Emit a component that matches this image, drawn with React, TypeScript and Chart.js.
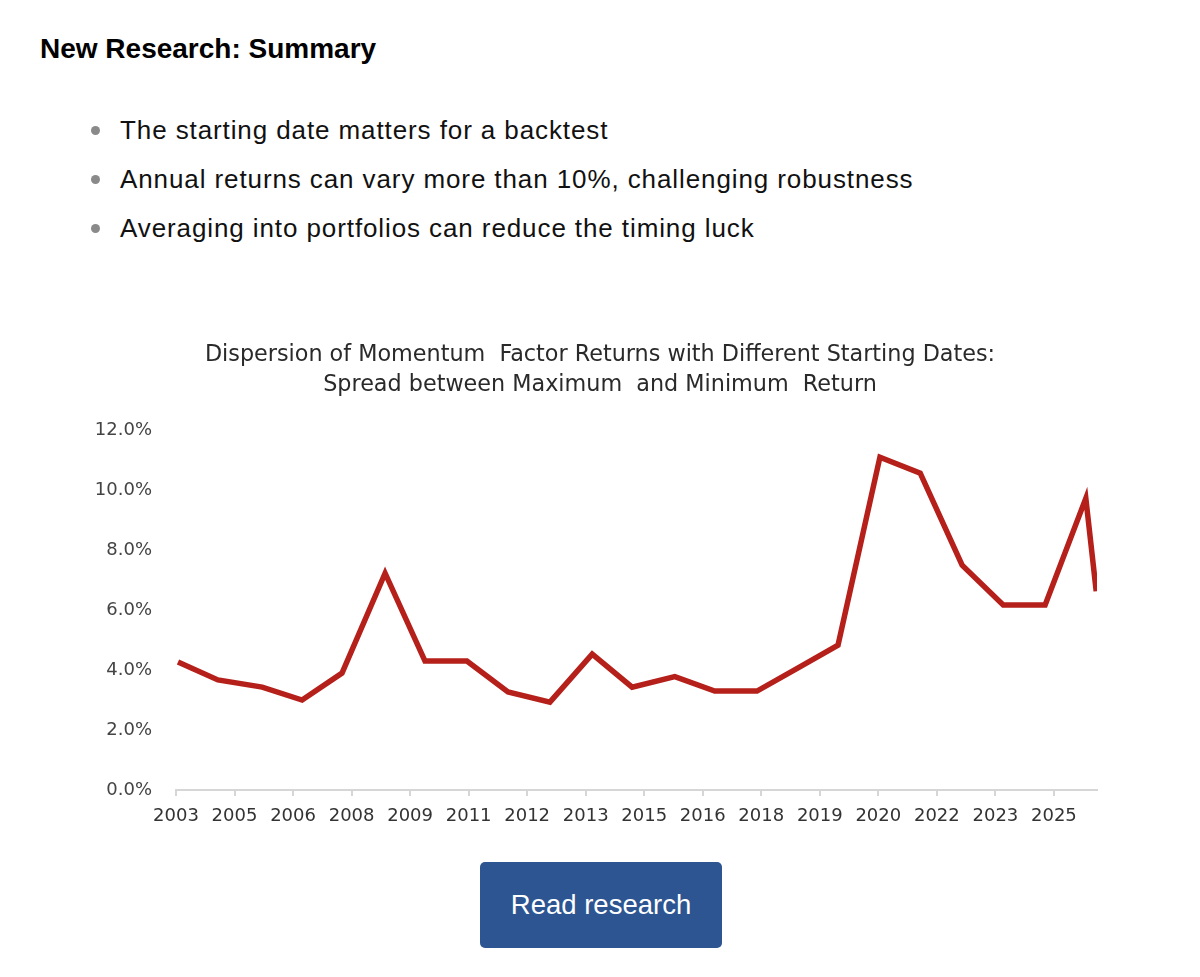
import React, { useEffect, useRef } from "react";
import { Chart, registerables } from "chart.js";

Chart.register(...registerables);

// ---- data ----
const chartTitle = [
  "Dispersion of Momentum  Factor Returns with Different Starting Dates:",
  "Spread between Maximum  and Minimum  Return",
];
const xLabels = [
  "2003", "2005", "2006", "2008", "2009", "2011", "2012", "2013",
  "2015", "2016", "2018", "2019", "2020", "2022", "2023", "2025",
];
// observation dates (fractional years) and spread between max and min return (%)
const pointYears = [
  2003.05, 2004.05, 2005.16, 2006.16, 2007.16, 2008.24, 2009.24, 2010.29,
  2011.32, 2012.37, 2013.43, 2014.43, 2015.5, 2016.5, 2017.56, 2018.59,
  2019.59, 2020.64, 2021.65, 2022.7, 2023.73, 2024.78, 2025.8, 2026.06,
];
const spreadPct = [
  4.27, 3.67, 3.43, 3.0, 3.9, 7.23, 4.3, 4.3,
  3.27, 2.93, 4.53, 3.43, 3.78, 3.3, 3.3, 4.07,
  4.83, 11.1, 10.57, 7.5, 6.17, 6.17, 9.73, 6.63,
];
const yTicks = [0, 2, 4, 6, 8, 10, 12];
const bullets = [
  "The starting date matters for a backtest",
  "Annual returns can vary more than 10%, challenging robustness",
  "Averaging into portfolios can reduce the timing luck",
];

const X_MIN = 2003;
const X_MAX = 2026.08;
const X_TICK_STEP = (2025 - 2003) / (xLabels.length - 1);

function LineChart() {
  const ref = useRef<HTMLCanvasElement | null>(null);
  useEffect(() => {
    if (!ref.current) return;
    const chart = new Chart(ref.current, {
      type: "line",
      data: {
        datasets: [
          {
            label: "Spread",
            data: pointYears.map((x, i) => ({ x, y: spreadPct[i] })),
            borderColor: "#b5201b",
            borderWidth: 5.5,
            pointRadius: 0,
            tension: 0,
            borderJoinStyle: "miter",
            fill: false,
          },
        ],
      },
      options: {
        animation: false,
        responsive: false,
        devicePixelRatio: 1,
        layout: { padding: 0 },
        plugins: {
          legend: { display: false },
          tooltip: { enabled: false },
          title: {
            display: true,
            text: chartTitle,
            color: "#2a2a2a",
            font: { family: "'DejaVu Sans', sans-serif", size: 22.3, weight: "normal", lineHeight: 1.35 },
            padding: { top: 10, bottom: 30 },
          },
        },
        scales: {
          x: {
            type: "linear",
            min: X_MIN,
            max: X_MAX,
            afterBuildTicks: (scale: any) => {
              scale.ticks = xLabels.map((_, i) => ({ value: X_MIN + i * X_TICK_STEP }));
            },
            afterFit: (scale: any) => {
              scale.height = 50;
            },
            grid: {
              display: true,
              drawOnChartArea: false,
              drawTicks: true,
              tickLength: 6,
              color: "#d6d6d6",
              lineWidth: 2,
            },
            border: { display: true, color: "#d6d6d6", width: 2 },
            ticks: {
              autoSkip: false,
              maxRotation: 0,
              padding: 10,
              color: "#333",
              font: { family: "'DejaVu Sans', sans-serif", size: 18 },
              callback: (_v: any, i: number) => xLabels[i],
            },
          },
          y: {
            position: "left",
            min: 0,
            max: 12,
            afterBuildTicks: (scale: any) => {
              scale.ticks = yTicks.map((v) => ({ value: v }));
            },
            afterFit: (scale: any) => {
              scale.width = 116;
            },
            grid: { display: false, drawTicks: false },
            border: { display: false },
            ticks: {
              padding: 24,
              color: "#444",
              font: { family: "'DejaVu Sans', sans-serif", size: 18 },
              callback: (v: any) => Number(v).toFixed(1) + "%",
            },
          },
          yRightSpace: {
            position: "right",
            display: true,
            min: 0,
            max: 12,
            afterFit: (scale: any) => {
              scale.width = 43;
            },
            grid: { display: false, drawTicks: false },
            border: { display: false },
            ticks: { display: false },
          },
        },
      },
    });
    return () => chart.destroy();
  }, []);
  return <canvas ref={ref} width={1080} height={510} style={{ display: "block" }} />;
}

export default function App() {
  return (
    <div
      style={{
        position: "absolute",
        left: 0,
        top: 0,
        width: 1200,
        height: 977,
        background: "#fff",
        fontFamily: "'Liberation Sans', Arial, sans-serif",
        color: "#000",
        overflow: "hidden",
      }}
    >
      <div style={{ position: "absolute", left: 40, top: 31, fontSize: 28, fontWeight: "bold", lineHeight: "36px" }}>
        New Research: Summary
      </div>
      {bullets.map((b, i) => (
        <div
          key={i}
          style={{ position: "absolute", left: 0, top: 113 + i * 49, height: 34, width: 1200 }}
        >
          <span
            style={{
              position: "absolute",
              left: 91,
              top: 13,
              width: 9,
              height: 9,
              borderRadius: "50%",
              background: "#8a8a8a",
            }}
          />
          <span
            style={{
              position: "absolute",
              left: 120,
              top: 0,
              fontSize: 26,
              lineHeight: "34px",
              letterSpacing: "0.9px",
              color: "#111",
              whiteSpace: "nowrap",
            }}
          >
            {b}
          </span>
        </div>
      ))}
      <div style={{ position: "absolute", left: 60, top: 330, width: 1080, height: 510 }}>
        <LineChart />
      </div>
      <div
        style={{
          position: "absolute",
          left: 480,
          top: 862,
          width: 242,
          height: 86,
          background: "#2c5592",
          borderRadius: 5,
          color: "#fff",
          fontSize: 27.5,
          lineHeight: "86px",
          textAlign: "center",
        }}
      >
        Read research
      </div>
    </div>
  );
}
